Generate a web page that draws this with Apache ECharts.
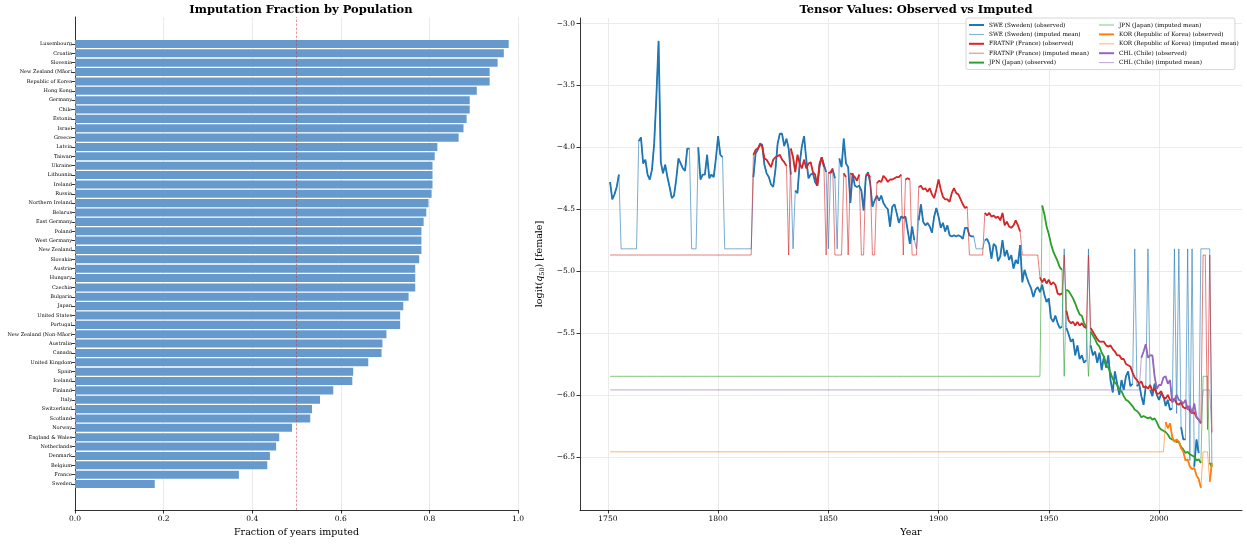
<!DOCTYPE html>
<html>
<head>
<meta charset="utf-8">
<script src="https://cdn.jsdelivr.net/npm/echarts@6/dist/echarts.min.js"></script>
<style>
  html, body { margin: 0; padding: 0; background: #fff; }
  #chart { width: 1247px; height: 546px; }
</style>
</head>
<body>
<div id="chart"></div>
<script>
// left panel: share of years imputed per population, sorted high -> low
const populations = [
  'Luxembourg', 'Croatia', 'Slovenia', 'New Zealand (Māori', 'Republic of Korea', 'Hong Kong',
  'Germany', 'Chile', 'Estonia', 'Israel', 'Greece', 'Latvia', 'Taiwan', 'Ukraine', 'Lithuania',
  'Ireland', 'Russia', 'Northern Ireland', 'Belarus', 'East Germany', 'Poland', 'West Germany',
  'New Zealand', 'Slovakia', 'Austria', 'Hungary', 'Czechia', 'Bulgaria', 'Japan', 'United States',
  'Portugal', 'New Zealand (Non-Māori', 'Australia', 'Canada', 'United Kingdom', 'Spain', 'Iceland',
  'Finland', 'Italy', 'Switzerland', 'Scotland', 'Norway', 'England & Wales', 'Netherlands',
  'Denmark', 'Belgium', 'France', 'Sweden'
];
const imputedFraction = [
  0.979, 0.968, 0.954, 0.936, 0.936, 0.907,
  0.891, 0.891, 0.884, 0.877, 0.866, 0.818, 0.812, 0.807, 0.807,
  0.807, 0.805, 0.798, 0.793, 0.787, 0.782, 0.782,
  0.782, 0.777, 0.768, 0.768, 0.768, 0.753, 0.741, 0.734,
  0.734, 0.703, 0.694, 0.692, 0.662, 0.628, 0.626,
  0.583, 0.553, 0.535, 0.531, 0.490, 0.461, 0.454,
  0.440, 0.434, 0.370, 0.180
];
const threshold = 0.5;

// right panel: logit(q50) female, one value per year, null = not observed
const firstYear = 1751;
const lastYear = 2024;
const yearTicks = [1750, 1800, 1850, 1900, 1950, 2000];
const valueTicks = [-6.5, -6.0, -5.5, -5.0, -4.5, -4.0, -3.5, -3.0];

const sweStart = 1751;
const sweObserved = [
  -4.28, -4.42, -4.38, -4.32, -4.22, null, null, null, null, null,   // 1751
  null, null, null, -3.95, -3.92, -4.13, -4.10, -4.22, -4.26, -4.18,  // 1761
  -3.97, -3.59, -3.14, -4.12, -4.21, -4.14, -4.24, -4.32, -4.41, -4.39, // 1771
  -4.26, -4.09, -4.13, -4.17, -4.19, -4.01, -4.01, null, null, null,  // 1781
  -4.00, -4.26, -4.22, -4.22, -4.06, -4.25, -4.22, -4.24, -4.09, -3.91, // 1791
  -4.06, -4.08, null, null, null, null, null, null, null, null,       // 1801
  null, null, null, null, null, -4.24, -4.05, -4.02, -3.97, -3.98,    // 1811
  -4.14, -4.21, -4.24, -4.30, -4.32, -4.18, -3.97, -3.89, -3.89, -3.99, // 1821
  -3.93, -4.01, -4.22, null, -4.35, -4.37, -4.13, -3.99, -3.91, -4.10,  // 1831
  -4.25, -4.22, -4.21, -4.28, -4.31, -4.16, -4.08, -4.14, -4.20, null,  // 1841
  -4.21, -4.18, -4.25, null, -4.09, -4.16, -3.93, -4.13, -4.16, -4.45,  // 1851
  -4.21, -4.31, -4.32, -4.31, -4.35, -4.51, -4.24, -4.20, -4.29, -4.48, // 1861
  -4.43, -4.39, -4.43, -4.39, -4.45, -4.48, -4.50, -4.64, -4.48, -4.46, // 1871
  -4.53, -4.61, -4.56, -4.57, -4.56, -4.67, -4.78, -4.64, -4.75, null,  // 1881
  -4.59, -4.46, -4.60, -4.63, -4.61, -4.64, -4.69, -4.56, -4.49, -4.56, // 1891
  -4.65, -4.61, -4.68, -4.63, -4.71, -4.72, -4.71, -4.72, -4.71, -4.72, // 1901
  -4.74, -4.65, -4.65, -4.71, -4.72, -4.72, null, null, null, null,    // 1911
  -4.75, -4.74, -4.78, -4.90, -4.78, -4.80, -4.92, -4.88, -4.75, -4.88, // 1921
  -4.83, -4.91, -4.87, -4.98, -4.91, -4.94, -4.79, -5.09, -4.99, -5.05, // 1931
  -5.10, -5.14, -5.21, -5.15, -5.13, -5.17, -5.11, -5.19, -5.25, -5.22, // 1941
  -5.38, -5.41, -5.36, -5.42, -5.46, -5.45, null, -5.46, -5.51, -5.57,  // 1951
  -5.55, -5.68, -5.60, -5.71, -5.68, -5.74, -5.72, null, -5.60, -5.68,  // 1961
  -5.65, -5.74, -5.66, -5.80, -5.69, -5.78, -5.68, -5.88, -5.98, -5.81, // 1971
  -5.91, -6.00, -5.88, -5.96, -5.85, -5.81, -5.93, -5.91, null, -5.93,  // 1981
  -5.91, -6.01, -6.08, -5.93, null, -5.96, -6.01, -5.91, -6.00, -6.04,  // 1991
  -5.99, -6.01, -6.09, -6.04, -6.12, -6.11, null, -6.15, null, -6.26,   // 2001
  -6.36, -6.36, null, -6.53, null, -6.58, -6.36, -6.47, null, null,     // 2011
  null, null, null, -6.58                                               // 2021
];
const sweMean = -4.82;

const fraStart = 1816;
const fraObserved = [
  -4.06, -4.02, -4.01, -3.98, -3.99,                                    // 1816
  -4.09, -4.10, -4.13, -4.16, -4.10, -4.08, -4.07, -4.06, -4.10, -4.12, // 1821
  -4.15, null, -4.01, -4.08, -4.20, -4.06, -4.13, -4.17, -4.10, -4.17,  // 1831
  -4.13, -4.12, -4.20, -4.22, -4.31, -4.13, -4.08, -4.16, null, -4.21,  // 1841
  -4.20, -4.17, null, null, null, null, -4.21, -4.24, null, -4.21,      // 1851
  -4.22, -4.24, -4.27, -4.22, null, null, -4.22, -4.22, -4.24, null,    // 1861
  null, -4.29, -4.27, -4.28, -4.23, -4.25, -4.28, -4.26, -4.26, -4.25,  // 1871
  -4.24, -4.24, -4.22, null, -4.26, -4.25, -4.26, null, null, null,     // 1881
  -4.32, -4.31, -4.34, -4.33, -4.36, -4.33, -4.38, -4.41, -4.34, -4.26, // 1891
  -4.34, -4.40, -4.42, -4.42, -4.44, -4.37, -4.33, -4.37, -4.38, -4.42, // 1901
  -4.46, -4.49, -4.48, null, null, null, null, null, null, null,       // 1911
  -4.53, -4.55, -4.53, -4.56, -4.55, -4.57, -4.56, -4.59, -4.53, -4.63, // 1921
  -4.60, -4.64, -4.65, -4.63, -4.59, -4.63, -4.68, null, null, null,    // 1931
  null, null, null, null, null, -5.05, -5.09, -5.06, -5.10, -5.07,      // 1941
  -5.11, -5.09, -5.11, -5.18, -5.19, -5.18, null, -5.32, -5.40, -5.42,  // 1951
  -5.41, -5.44, -5.41, -5.44, -5.42, -5.45, -5.46, null, -5.46, -5.49,  // 1961
  -5.52, -5.55, -5.57, -5.57, -5.57, -5.60, -5.61, -5.60, -5.63, -5.65, // 1971
  -5.68, -5.68, -5.71, -5.71, -5.75, -5.76, -5.77, -5.82, -5.86, -5.88, // 1981
  -5.91, -5.89, -5.94, -5.93, -5.95, -5.92, -5.97, -5.95, -5.99, -5.99, // 1991
  -5.97, -6.02, -6.03, -6.00, -6.04, -6.05, -6.03, -6.07, -6.08, -6.06, // 2001
  -6.10, -6.11, -6.09, -6.13, -6.15, -6.14, -6.18, -6.20, -6.23, null,  // 2011
  null, -6.28, null, -6.30                                              // 2021
];
const fraMean = -4.87;

const jpnStart = 1947;
const jpnObserved = [
  -4.47, -4.54, -4.64, -4.70,                                           // 1947
  -4.78, -4.84, -4.88, -4.92, -4.97, -4.99, null, -5.15, -5.16, -5.19,  // 1951
  -5.22, -5.26, -5.31, -5.35, -5.36, -5.42, -5.45, null, -5.49, -5.52,  // 1961
  -5.55, -5.59, -5.61, -5.66, -5.69, -5.76, -5.78, -5.82, -5.87, -5.90, // 1971
  -5.92, -5.96, -5.97, -6.01, -6.04, -6.05, -6.07, -6.09, -6.12, -6.13, // 1981
  -6.15, -6.18, -6.17, -6.18, -6.19, -6.18, -6.20, -6.19, -6.22, -6.26, // 1991
  -6.28, -6.29, -6.30, -6.32, -6.35, -6.36, -6.37, -6.38, -6.38, -6.42, // 2001
  -6.44, -6.47, -6.46, -6.48, -6.49, -6.50, -6.53, -6.52, -6.55, null,  // 2011
  null, null, -6.55, -6.58                                              // 2021
];
const jpnMean = -5.85;

const korStart = 2003;
const korObserved = [
  -6.22, -6.27, -6.23, -6.34, -6.38, -6.36, -6.38, -6.43,               // 2003
  -6.46, -6.53, -6.52, -6.58, -6.60, -6.59, -6.65, -6.68, -6.75, null,  // 2011
  null, null, -6.70, -6.55                                              // 2021
];
const korMean = -6.46;

const chlStart = 1992;
const chlObserved = [
  -5.70, -5.65, -5.59, -5.70, -5.68, -5.68, -5.85, -5.95, -5.92,        // 1992
  -5.92, -5.86, -5.85, -5.91, -5.88, -6.06, -6.04, -6.00, -6.04, -6.05, // 2001
  -6.07, -6.04, -6.12, -6.09, -6.15, -6.07, -6.18, -6.20, -6.22, null,  // 2011
  null, null, null, -6.31                                               // 2021
];
const chlMean = -5.96;

const countries = [
  { label: 'SWE (Sweden)', start: sweStart, obs: sweObserved, mean: sweMean, color: '#1f77b4' },
  { label: 'FRATNP (France)', start: fraStart, obs: fraObserved, mean: fraMean, color: '#d62728' },
  { label: 'JPN (Japan)', start: jpnStart, obs: jpnObserved, mean: jpnMean, color: '#2ca02c' },
  { label: 'KOR (Republic of Korea)', start: korStart, obs: korObserved, mean: korMean, color: '#ff7f0e' },
  { label: 'CHL (Chile)', start: chlStart, obs: chlObserved, mean: chlMean, color: '#9467bd' }
];

const years = [];
for (let y = firstYear; y <= lastYear; y++) years.push(y);

const font = 'DejaVu Serif';
const gridColor = '#e6e6e6';
const minus = (v, d) => (v < 0 ? '\u2212' : '') + Math.abs(v).toFixed(d);

// legend handles: plain line segments (thick for observed, thin for imputed)
const thickIcon = 'path://M0,0M15,8M0,3H15V5H0Z';
const thinIcon = 'path://M0,0M15,8M0,3.5H15V4.5H0Z';

const lineSeries = [];
countries.forEach(c => {
  const obsAt = y => {
    const v = c.obs[y - c.start];
    return v === undefined ? null : v;
  };
  lineSeries.push({
    name: c.label + ' (observed)',
    type: 'line',
    xAxisIndex: 2,
    yAxisIndex: 2,
    symbol: 'none',
    connectNulls: false,
    lineStyle: { width: 1.8, color: c.color },
    itemStyle: { color: c.color },
    data: years.map(y => [y, obsAt(y)])
  });
  lineSeries.push({
    name: c.label + ' (imputed mean)',
    type: 'line',
    xAxisIndex: 2,
    yAxisIndex: 2,
    symbol: 'none',
    lineStyle: { width: 1, color: c.color, opacity: 0.6 },
    itemStyle: { color: c.color, opacity: 0.6 },
    data: years.map(y => {
      const v = obsAt(y);
      return [y, v === null ? c.mean : v];
    })
  });
});
const legendItems = lineSeries.map((s, i) => ({ name: s.name, icon: i % 2 === 0 ? thickIcon : thinIcon }));

// two legend columns; the first one carries the frame for both
const legendBase = {
  orient: 'vertical',
  top: 18,
  itemWidth: 15,
  itemHeight: 8,
  itemGap: 1.4,
  itemStyle: { borderWidth: 0 },
  textStyle: { fontFamily: font, fontSize: 5.75, color: '#000' }
};

const chart = echarts.init(document.getElementById('chart'), null, { renderer: 'canvas' });

const option = {
  animation: false,
  backgroundColor: '#fff',
  textStyle: { fontFamily: font, color: '#000' },
  title: [
    {
      text: 'Imputation Fraction by Population',
      left: 296, top: -1, textAlign: 'center',
      textStyle: { fontFamily: font, fontSize: 11.5, fontWeight: 'bold', color: '#000' }
    },
    {
      text: 'Tensor Values: Observed vs Imputed',
      left: 911, top: -1, textAlign: 'center',
      textStyle: { fontFamily: font, fontSize: 11.5, fontWeight: 'bold', color: '#000' }
    }
  ],
  legend: [
    Object.assign({}, legendBase, {
      left: 966,
      padding: [3, 146, 3, 3],
      backgroundColor: 'rgba(255,255,255,0.8)',
      borderColor: '#cccccc',
      borderWidth: 0.8,
      borderRadius: 2,
      data: legendItems.slice(0, 5)
    }),
    Object.assign({}, legendBase, {
      left: 1099,
      top: 21,
      padding: 0,
      z: 5,
      data: legendItems.slice(5)
    })
  ],
  grid: [
    { left: 75, width: 443, top: 39.3, height: 449.4 },
    { left: 75, width: 443, top: 17, height: 493 },
    { left: 580, width: 662, top: 18, height: 492 }
  ],
  xAxis: [
    { gridIndex: 0, type: 'value', min: 0, max: 1, show: false },
    {
      gridIndex: 1, type: 'value', min: 0, max: 1, interval: 0.2,
      name: 'Fraction of years imputed', nameLocation: 'middle', nameGap: 18,
      nameTextStyle: { fontFamily: font, fontSize: 9.5, color: '#000' },
      axisLine: { lineStyle: { color: '#000', width: 0.8 } },
      axisTick: { length: 3.5, lineStyle: { color: '#000', width: 0.8 } },
      axisLabel: { fontFamily: font, fontSize: 7.5, color: '#000', margin: 5, formatter: v => v.toFixed(1) },
      splitLine: { show: true, lineStyle: { color: gridColor, width: 0.8 } }
    },
    {
      gridIndex: 2, type: 'value', min: 1737.35, max: 2037.65,
      name: 'Year', nameLocation: 'middle', nameGap: 18,
      nameTextStyle: { fontFamily: font, fontSize: 9.5, color: '#000' },
      axisLine: { lineStyle: { color: '#000', width: 0.8 } },
      axisTick: { length: 3.5, customValues: yearTicks, lineStyle: { color: '#000', width: 0.8 } },
      axisLabel: { fontFamily: font, fontSize: 7.5, color: '#000', margin: 5, customValues: yearTicks, formatter: v => String(v) },
      splitLine: { show: true, lineStyle: { color: gridColor, width: 0.8 } }
    }
  ],
  yAxis: [
    {
      gridIndex: 0, type: 'category', data: populations, inverse: true,
      axisLine: { show: false },
      axisTick: { show: true, alignWithLabel: true, length: 3.5, lineStyle: { color: '#000', width: 0.8 } },
      axisLabel: { fontFamily: font, fontSize: 5, color: '#000', margin: 3, interval: 0 },
      splitLine: { show: false }
    },
    {
      gridIndex: 1, type: 'value', min: 0, max: 1,
      axisLine: { show: true, lineStyle: { color: '#000', width: 0.8 } },
      axisTick: { show: false }, axisLabel: { show: false }, splitLine: { show: false }
    },
    {
      gridIndex: 2, type: 'value', min: -6.93, max: -2.955,
      name: '{n|logit(}{q|q}{s|50}{n|) [female]}',
      nameLocation: 'middle', nameGap: 33, nameRotate: 90,
      nameTextStyle: {
        fontFamily: font, fontSize: 9.5, color: '#000',
        rich: {
          n: { fontFamily: font, fontSize: 9.5, color: '#000' },
          q: { fontFamily: font, fontSize: 9.5, fontStyle: 'italic', color: '#000' },
          s: { fontFamily: font, fontSize: 6.5, color: '#000', padding: [5, 0, 0, 0] }
        }
      },
      axisLine: { show: true, lineStyle: { color: '#000', width: 0.8 } },
      axisTick: { show: true, length: 3.5, customValues: valueTicks, lineStyle: { color: '#000', width: 0.8 } },
      axisLabel: { fontFamily: font, fontSize: 7.5, color: '#000', margin: 5, customValues: valueTicks, formatter: v => minus(v, 1) },
      splitLine: { show: true, lineStyle: { color: gridColor, width: 0.8 } }
    }
  ],
  series: [
    {
      type: 'bar',
      xAxisIndex: 0,
      yAxisIndex: 0,
      barCategoryGap: '14%',
      itemStyle: { color: '#669acc' },
      data: imputedFraction,
      z: 3
    },
    {
      type: 'line',
      xAxisIndex: 1,
      yAxisIndex: 1,
      data: [],
      markLine: {
        silent: true,
        symbol: 'none',
        label: { show: false },
        lineStyle: { color: 'rgba(214,39,40,0.6)', type: [2.5, 1.5], width: 0.8 },
        data: [{ xAxis: threshold }]
      },
      z: 4
    },
    ...lineSeries
  ]
};

chart.setOption(option);
window.addEventListener('resize', () => chart.resize());
</script>
</body>
</html>
